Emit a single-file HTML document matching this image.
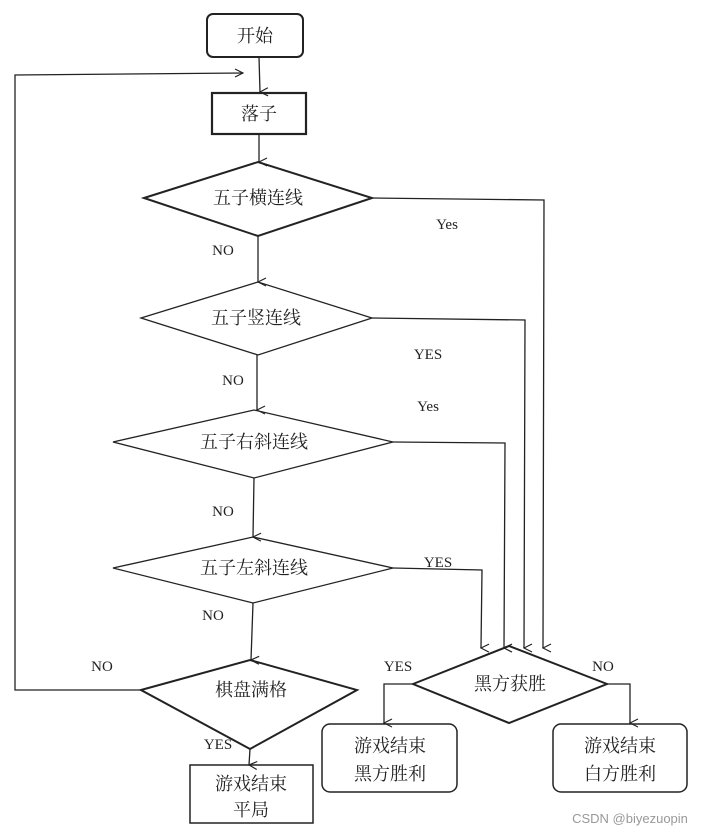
<!DOCTYPE html>
<html><head><meta charset="utf-8"><style>
html,body{margin:0;padding:0;background:#fff;}
svg{display:block;}
.c{font-family:"Liberation Serif","Noto Serif CJK SC",serif;font-size:18px;fill:#222;text-anchor:middle;}
.l{font-family:"Liberation Serif",serif;font-size:15px;fill:#222;text-anchor:middle;}
</style></head><body>
<svg width="712" height="835" viewBox="0 0 712 835" xmlns="http://www.w3.org/2000/svg">
<defs><marker id="a" markerWidth="10" markerHeight="10" refX="5" refY="9" orient="auto" markerUnits="userSpaceOnUse" viewBox="0 0 10 10"><path d="M1,1 L5,9 L9,1" fill="none" stroke="#222" stroke-width="1.2"/></marker>
<marker id="r" markerWidth="10" markerHeight="10" refX="9" refY="5" orient="0" markerUnits="userSpaceOnUse" viewBox="0 0 10 10"><path d="M1,1 L9,5 L1,9" fill="none" stroke="#222" stroke-width="1.2"/></marker></defs>
<g fill="none" stroke="#222" stroke-width="1.3">
<rect x="207" y="14" width="96" height="43" rx="6" stroke-width="2"/>
<rect x="212" y="93" width="94" height="41" stroke-width="2.2"/>
<polygon points="144,198 258,162 372,198 258,236" stroke-width="2"/>
<polygon points="141,318 258,282 372,318 258,355"/>
<polygon points="113,442 254,410 393,442 254,478"/>
<polygon points="113,568 253,537 393,568 253,603"/>
<polygon points="141,690 250,660 357,690 250,749" stroke-width="2"/>
<polygon points="413,684 509,646 607,684 509,723" stroke-width="2"/>
<rect x="190" y="765" width="123" height="58" stroke-width="1.5"/>
<rect x="322" y="724" width="135" height="68" rx="8" stroke-width="1.5"/>
<rect x="553" y="724" width="134" height="68" rx="8" stroke-width="1.5"/>
<line x1="259" y1="57" x2="260" y2="92" marker-end="url(#a)"/>
<polyline points="141,690 15,690 15,75 243,73" marker-end="url(#r)"/>
<line x1="259" y1="134" x2="259" y2="162" marker-end="url(#a)"/>
<line x1="258" y1="236" x2="258" y2="282" marker-end="url(#a)"/>
<line x1="257" y1="355" x2="257" y2="410" marker-end="url(#a)"/>
<line x1="254" y1="478" x2="253" y2="537" marker-end="url(#a)"/>
<line x1="253" y1="603" x2="251" y2="660" marker-end="url(#a)"/>
<line x1="250" y1="749" x2="249" y2="765" marker-end="url(#a)"/>
<polyline points="372,198 544,200 543,648" marker-end="url(#a)"/>
<polyline points="372,318 525,320 524,648" marker-end="url(#a)"/>
<polyline points="393,442 505,443 504,648" marker-end="url(#a)"/>
<polyline points="393,568 482,570 481,648" marker-end="url(#a)"/>
<polyline points="413,684 384,684 384,723" marker-end="url(#a)"/>
<polyline points="607,684 630,684 630,723" marker-end="url(#a)"/>
</g>
<text class="c" x="255" y="42">开始</text>
<text class="c" x="259" y="120">落子</text>
<text class="c" x="258" y="204">五子横连线</text>
<text class="c" x="256" y="324">五子竖连线</text>
<text class="c" x="254" y="448">五子右斜连线</text>
<text class="c" x="254" y="574">五子左斜连线</text>
<text class="c" x="251" y="696">棋盘满格</text>
<text class="c" x="510" y="690">黑方获胜</text>
<text class="c" x="251" y="790">游戏结束</text>
<text class="c" x="251" y="816">平局</text>
<text class="c" x="390" y="752">游戏结束</text>
<text class="c" x="390" y="780">黑方胜利</text>
<text class="c" x="620" y="752">游戏结束</text>
<text class="c" x="620" y="780">白方胜利</text>
<text class="l" x="447" y="229">Yes</text>
<text class="l" x="223" y="255">NO</text>
<text class="l" x="428" y="359">YES</text>
<text class="l" x="233" y="385">NO</text>
<text class="l" x="428" y="411">Yes</text>
<text class="l" x="223" y="516">NO</text>
<text class="l" x="438" y="567">YES</text>
<text class="l" x="213" y="620">NO</text>
<text class="l" x="102" y="671">NO</text>
<text class="l" x="398" y="671">YES</text>
<text class="l" x="603" y="671">NO</text>
<text class="l" x="218" y="749">YES</text>
<text x="630" y="823" style="font-family:'Liberation Sans',sans-serif;font-size:13px;fill:#999;text-anchor:middle">CSDN @biyezuopin</text>
</svg>
</body></html>
